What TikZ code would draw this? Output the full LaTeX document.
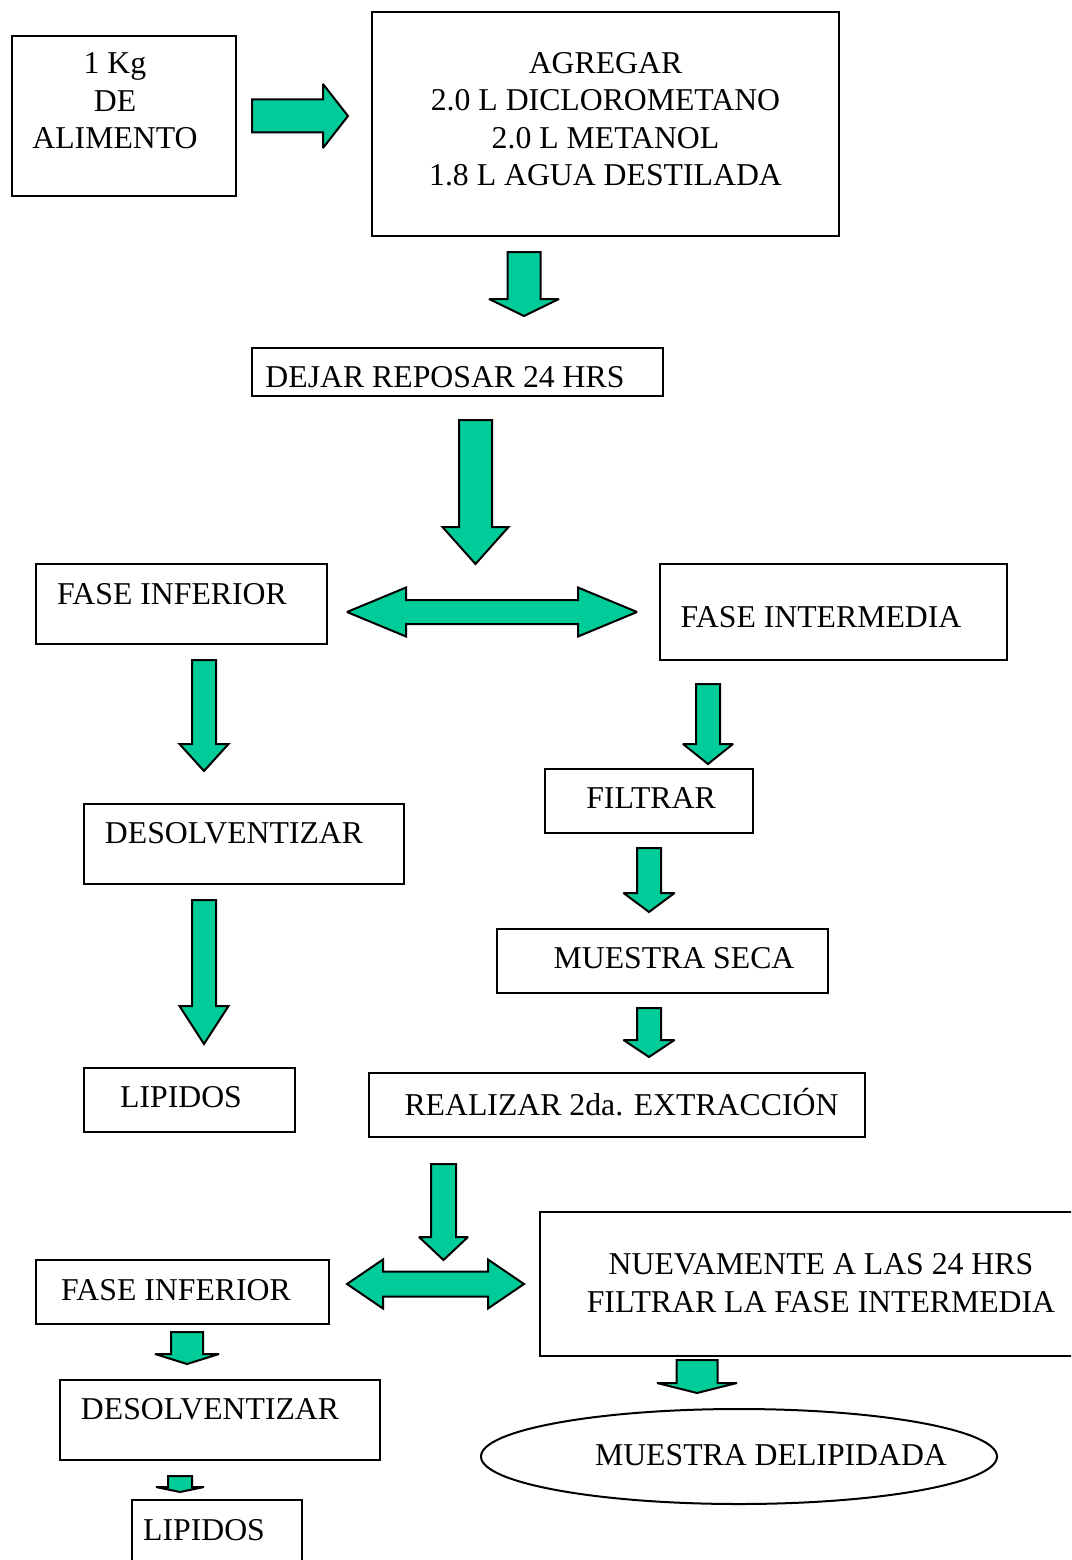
\documentclass[tikz,border=0pt]{standalone}
\usepackage{fontspec}
\setmainfont{Liberation Serif}
\usetikzlibrary{shapes.geometric}
\definecolor{arrowgreen}{HTML}{00CC99}
% block arrows: centre x, half body, top, head start, half head, tip
\newcommand\downblock[6]{\filldraw[blockarrow] ({#1-#2},#3) -- ({#1+#2},#3) -- ({#1+#2},#4) -- ({#1+#5},#4) -- (#1,#6) -- ({#1-#5},#4) -- ({#1-#2},#4) -- cycle;}
\newcommand\rightblock[6]{\filldraw[blockarrow] (#1,{#3-#4}) -- ({#2-#5},{#3-#4}) -- ({#2-#5},{#3-#6}) -- (#2,#3) -- ({#2-#5},{#3+#6}) -- ({#2-#5},{#3+#4}) -- (#1,{#3+#4}) -- cycle;}
\newcommand\bothblock[6]{\filldraw[blockarrow] (#1,#3) -- ({#1+#5},{#3-#6}) -- ({#1+#5},{#3-#4}) -- ({#2-#5},{#3-#4}) -- ({#2-#5},{#3-#6}) -- (#2,#3) -- ({#2-#5},{#3+#6}) -- ({#2-#5},{#3+#4}) -- ({#1+#5},{#3+#4}) -- ({#1+#5},{#3+#6}) -- cycle;}

\begin{document}
\begin{tikzpicture}[x=1pt,y=-1pt,line width=2pt,font=\fontsize{31.75}{37.5}\selectfont,
                    box/.style={draw,rectangle,inner sep=0pt},
                    blockarrow/.style={fill=arrowgreen,draw=black,line join=miter,miter limit=2.5}]

  \clip (0,0) rectangle (1071,1560);

  \node[box,minimum width=224,minimum height=160,label={[align=center,shift={(-9,-15)}]center:1 Kg\\DE\\ALIMENTO}] (1) at (124,116) {};
  \node[box,minimum width=467,minimum height=224,label={[align=center,shift={(0,-5)}]center:AGREGAR\\2.0 L DICLOROMETANO\\2.0 L METANOL\\1.8 L AGUA DESTILADA}] (2) at (605.5,124) {};
  \node[box,minimum width=411,minimum height=48,label={[shift={(-12.5,5)}]center:DEJAR REPOSAR 24 HRS}] (3) at (457.5,372) {};
  \node[box,minimum width=291,minimum height=80,label={[shift={(-9.5,-10)}]center:FASE INFERIOR}] (4) at (181.5,604) {};
  \node[box,minimum width=347,minimum height=96,label={[shift={(-12.5,5)}]center:FASE INTERMEDIA}] (5) at (833.5,612) {};
  \node[box,minimum width=320,minimum height=80,label={[shift={(-10,-11)}]center:DESOLVENTIZAR}] (6) at (244,844) {};
  \node[box,minimum width=211,minimum height=64,label={[shift={(-8.5,-3)}]center:LIPIDOS}] (7) at (189.5,1100) {};
  \node[box,minimum width=208,minimum height=64,label={[shift={(2,-3)}]center:FILTRAR}] (8) at (649,801) {};
  \node[box,minimum width=331,minimum height=64,label={[shift={(11.5,-3)}]center:MUESTRA SECA}] (9) at (662.5,961) {};
  \node[box,minimum width=496,minimum height=64,label={[shift={(4.5,-3)}]center:REALIZAR 2da. EXTRACCIÓN}] (10) at (617,1105) {};
  \node[box,minimum width=293,minimum height=64,label={[shift={(-6.5,-2)}]center:FASE INFERIOR}] (11) at (182.5,1292) {};
  \node[box,minimum width=560,minimum height=144,label={[align=center,shift={(1,-1)}]center:NUEVAMENTE A LAS 24 HRS\\FILTRAR LA FASE INTERMEDIA}] (12) at (820,1284) {};
  \node[box,minimum width=320,minimum height=80,label={[shift={(-10,-11)}]center:DESOLVENTIZAR}] (13) at (220,1420) {};
  \node[box,minimum width=170,minimum height=80,label={[shift={(-13,-10)}]center:LIPIDOS}] (14) at (217,1540) {};
  \node[draw,ellipse,inner sep=0pt,minimum width=516,minimum height=95,label={[shift={(32,-1.5)}]center:MUESTRA DELIPIDADA}] (15) at (739,1456.5) {};

  \rightblock{252}{348}{116}{16.5}{25}{32}
  \downblock{524}{16.5}{252}{299}{35}{316}
  \downblock{475.5}{16.5}{420}{527}{33}{564}
  \bothblock{347}{637}{612}{12}{59}{24.5}
  \downblock{204}{12}{660}{744}{24.5}{771}
  \downblock{204}{12}{900}{1006}{24.5}{1044}
  \downblock{708}{12}{684}{744}{25}{764}
  \downblock{649}{12}{848}{893}{25.5}{912}
  \downblock{649}{12}{1008}{1040}{25.5}{1057}
  \downblock{443.5}{12.5}{1164}{1237}{24.5}{1260}
  \bothblock{347}{524}{1284}{12.5}{36}{24.5}
  \downblock{187}{16}{1332}{1354}{32}{1364}
  \downblock{180}{12}{1476}{1487}{24}{1492}
  \downblock{697}{20.5}{1360}{1383}{40}{1393}

\end{tikzpicture}
\end{document}
